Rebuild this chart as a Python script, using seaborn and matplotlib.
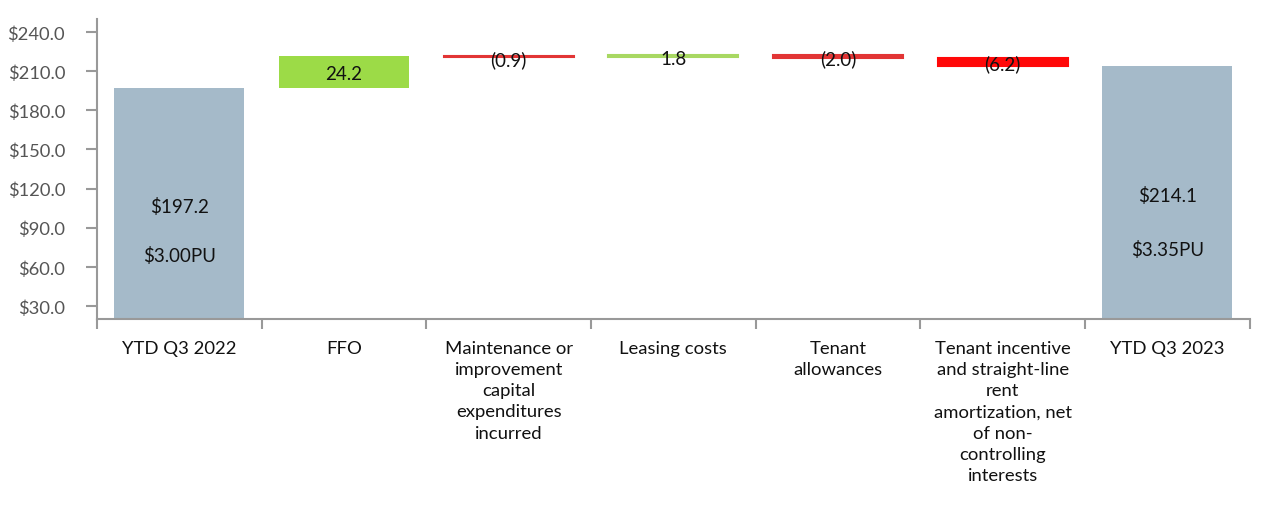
import matplotlib
matplotlib.use("Agg")
import matplotlib.pyplot as plt
import seaborn as sns
import numpy as np
from matplotlib.ticker import FixedLocator

categories = ["YTD Q3 2022", "FFO", "Maintenance or\nimprovement\ncapital\nexpenditures\nincurred",
              "Leasing costs", "Tenant\nallowances",
              "Tenant incentive\nand straight-line\nrent\namortization, net\nof non-\ncontrolling\ninterests",
              "YTD Q3 2023"]
start_total = 197.2
changes = [24.2, -0.9, 1.8, -2.0, -6.2]
end_total = 214.1
change_labels = ["24.2", "(0.9)", "1.8", "(2.0)", "(6.2)"]
total_labels = ["$197.2", "$214.1"]
per_unit_labels = ["$3.00PU", "$3.35PU"]
yticks = [30, 60, 90, 120, 150, 180, 210, 240]

colors = ["#A5BAC9", "#9CDB47", "#E23535", "#A8D862", "#E23535", "#FF0808", "#A5BAC9"]

# build waterfall geometry from data
bottoms = [0.0]
heights = [start_total]
running = start_total
for c in changes:
    bottoms.append(min(running, running + c))
    heights.append(abs(c))
    running += c
bottoms.append(0.0)
heights.append(end_total)

sns.set_style("white")
plt.rcParams["font.family"] = ["Lato", "DejaVu Sans"]

fig = plt.figure(figsize=(12.7, 5.1), dpi=100)
ax = fig.add_axes([0.0764, 0.3725, 0.9076, 0.5885])

x = list(range(len(categories)))
sns.barplot(x=x, y=heights, bottom=bottoms, ax=ax, width=0.79, color=colors[0])
for p, col, i, h in zip(ax.patches, colors, x, heights):
    p.set_facecolor(col)
    if 0 < i < len(categories) - 1 and h < 10:
        p.set_edgecolor(col)
        p.set_linewidth(1.5)
    else:
        p.set_linewidth(0)

ax.set_xlim(-0.5, len(categories) - 0.5)
ax.set_ylim(20, 250)
ax.set_yticks(yticks)
ax.set_yticklabels([f"${v:.1f}" for v in yticks], color="#555555", fontsize=13.2)
ax.set_xticks(x)
ax.set_xticklabels(categories, fontsize=13.3, color="#111111", va="top", linespacing=1.4)
ax.tick_params(axis="x", which="major", bottom=True, length=0, pad=15)
ax.xaxis.set_minor_locator(FixedLocator(np.arange(-0.5, len(categories), 1.0)))
ax.tick_params(axis="x", which="minor", bottom=True, length=7.5, width=1.5, color="#999999", direction="out")
ax.tick_params(axis="y", which="major", left=True, length=8, width=1.5, color="#999999", direction="out", pad=15)

for s in ["top", "right"]:
    ax.spines[s].set_visible(False)
for s in ["left", "bottom"]:
    ax.spines[s].set_color("#999999")
    ax.spines[s].set_linewidth(1.5)

# change labels
for i, (b, h, lab) in enumerate(zip(bottoms[1:-1], heights[1:-1], change_labels), start=1):
    ax.text(i, b + h / 2 - 1.5, lab, ha="center", va="center", fontsize=13.5, color="#111111")

# total labels
for i, tot, lab, pu in [(0, start_total, total_labels[0], per_unit_labels[0]),
                        (len(categories) - 1, end_total, total_labels[1], per_unit_labels[1])]:
    ylo = 20
    ax.text(i, ylo + (tot - ylo) * 0.49, lab, ha="center", va="center", fontsize=13.5, color="#111111")
    ax.text(i, ylo + (tot - ylo) * 0.275, pu, ha="center", va="center", fontsize=13.5, color="#111111")

fig.savefig("out.png", dpi=100)
